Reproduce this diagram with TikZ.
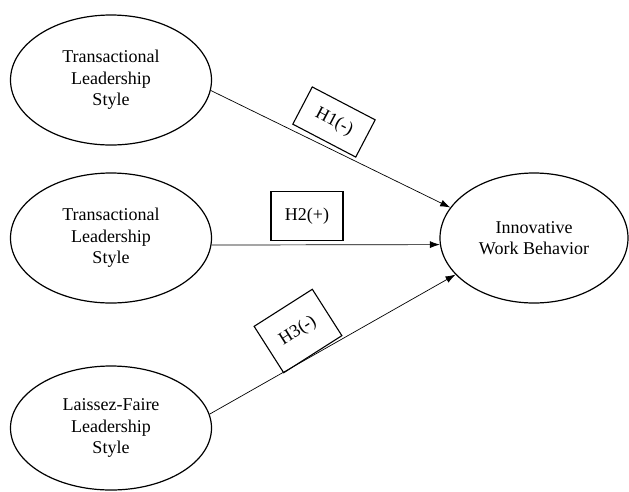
\documentclass[tikz,border=0pt]{standalone}
\usepackage{fontspec}
\setmainfont{Liberation Serif}
\usetikzlibrary{shapes.geometric,arrows.meta}
\begin{document}
\begin{tikzpicture}[x=1pt,y=-1pt,
  var/.style={draw,ellipse,line width=1.2pt,align=center,inner sep=0pt,
    font=\fontsize{18}{21.5}\selectfont,minimum height=130pt},
  hyp/.style={draw,rectangle,line width=1.1pt,inner sep=0pt,
    font=\fontsize{18}{21.5}\selectfont},
  conn/.style={line width=0.7pt,-{Latex[length=10pt,width=7pt]}}]
\useasboundingbox (0,0) rectangle (629,491);
\node[var,minimum width=201pt] (e1) at (111,80) {Transactional\\Leadership\\Style};
\node[var,minimum width=201pt] (e2) at (111,238) {Transactional\\Leadership\\Style};
\node[var,minimum width=201pt,minimum height=124pt] (e3) at (111,428) {Laissez-Faire\\Leadership\\Style};
\node[var,minimum width=188pt] (iwb) at (534,238) {Innovative\\Work Behavior};
\draw[conn] (e1.-6) -- (iwb.160);
\draw[conn] (e2.-4) -- (iwb.184);
\draw[conn] (e3.8.4) -- (iwb.205.4);
\node[hyp,minimum width=71pt,minimum height=42pt,rotate=-27.6] (h1) at (334,122) {H1(-)};
\node[hyp,minimum width=72pt,minimum height=49pt] (h2) at (307,216) {H2(+)};
\node[hyp,minimum width=69pt,minimum height=55pt,rotate=32.5] (h3) at (298,331) {H3(-)};
\end{tikzpicture}
\end{document}
